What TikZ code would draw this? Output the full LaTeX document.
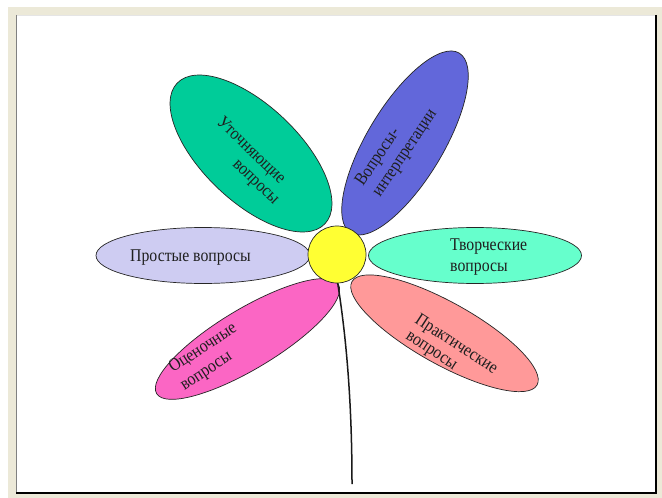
\documentclass[tikz,border=0pt]{standalone}
\usepackage{fontspec}
\setmainfont{Liberation Serif}
\usetikzlibrary{shapes.geometric}
\definecolor{panelbg}{HTML}{ECE9D8}
\definecolor{cLav}{RGB}{206,204,242}
\definecolor{cGreen}{RGB}{0,204,153}
\definecolor{cBlue}{RGB}{98,103,218}
\definecolor{cAqua}{RGB}{102,255,204}
\definecolor{cSalmon}{RGB}{255,153,153}
\definecolor{cPink}{RGB}{251,102,196}
\definecolor{cYellow}{RGB}{255,255,51}
\newcommand{\sqztxt}[1]{\scalebox{0.88}[1]{#1}}
\begin{document}
\begin{tikzpicture}[x=1bp,y=-1bp,
  petal/.style={ellipse, draw=black!85, line width=0.7bp, inner sep=0pt, outer sep=0pt},
  lbl/.style={anchor=base west, inner sep=0pt, font=\fontsize{18}{21}\selectfont, text=black!88}]
\useasboundingbox (0,0) rectangle (662,498);
% frame
\fill[white] (0,0) rectangle (662,498);
\fill[panelbg] (8,7) rectangle (662,498);
\fill[white] (16,15) rectangle (656,494);
\draw[black!10, line width=1bp] (16,15.5) -- (656,15.5);
\draw[gray, line width=1.2bp] (16.6,15) -- (16.6,493);
\draw[black, line width=2.2bp] (655.9,15) -- (655.9,494.1);
\draw[black, line width=2.2bp] (16,492.9) -- (657,492.9);
% petals
\node[petal, fill=cLav, minimum width=214bp, minimum height=56bp] (p1) at (203,255.5) {};
\node[petal, fill=cGreen, minimum width=204bp, minimum height=96bp, rotate=-43.6] (p2) at (251,153.5) {};
\node[petal, fill=cBlue, minimum width=210bp, minimum height=76bp, rotate=58.9] (p3) at (405,143) {};
\node[petal, fill=cAqua, minimum width=213bp, minimum height=56bp] (p4) at (475,255.5) {};
\node[petal, fill=cSalmon, minimum width=212bp, minimum height=62bp, rotate=-29.2] (p5) at (444.5,333.3) {};
\node[petal, fill=cPink, minimum width=212bp, minimum height=60bp, rotate=31] (p6) at (247.5,339) {};
% stem
\coordinate (stemtop) at (337.5,282);
\coordinate (stemend) at (352,484);
\draw[black!90, line width=1.5bp] (stemtop) .. controls (346,335) and (352,400) .. (stemend);
% centre
\node[petal, fill=cYellow, minimum width=58bp, minimum height=57bp] (core) at (337,254.5) {};
% labels
\node[lbl] (t1) at (130,261.5) {\sqztxt{Простые вопросы}};
\node[lbl, rotate=-44] (t2a) at (216,123) {\sqztxt{Уточняющие}};
\node[lbl, rotate=-44] (t2b) at (232,165) {\sqztxt{вопросы}};
\node[lbl, rotate=56] (t3a) at (363,187) {\sqztxt{Вопросы-}};
\node[lbl, rotate=56] (t3b) at (380,198) {\sqztxt{интерпретации}};
\node[lbl] (t4a) at (450,251) {\sqztxt{Творческие}};
\node[lbl] (t4b) at (450,271.5) {\sqztxt{вопросы}};
\node[lbl, rotate=-33] (t5a) at (414,322.5) {\sqztxt{Практические}};
\node[lbl, rotate=-33] (t5b) at (405,338.5) {\sqztxt{вопросы}};
\node[lbl, rotate=33] (t6a) at (173,373) {\sqztxt{Оценочные}};
\node[lbl, rotate=33] (t6b) at (184.4,390.6) {\sqztxt{вопросы}};
\end{tikzpicture}
\end{document}
